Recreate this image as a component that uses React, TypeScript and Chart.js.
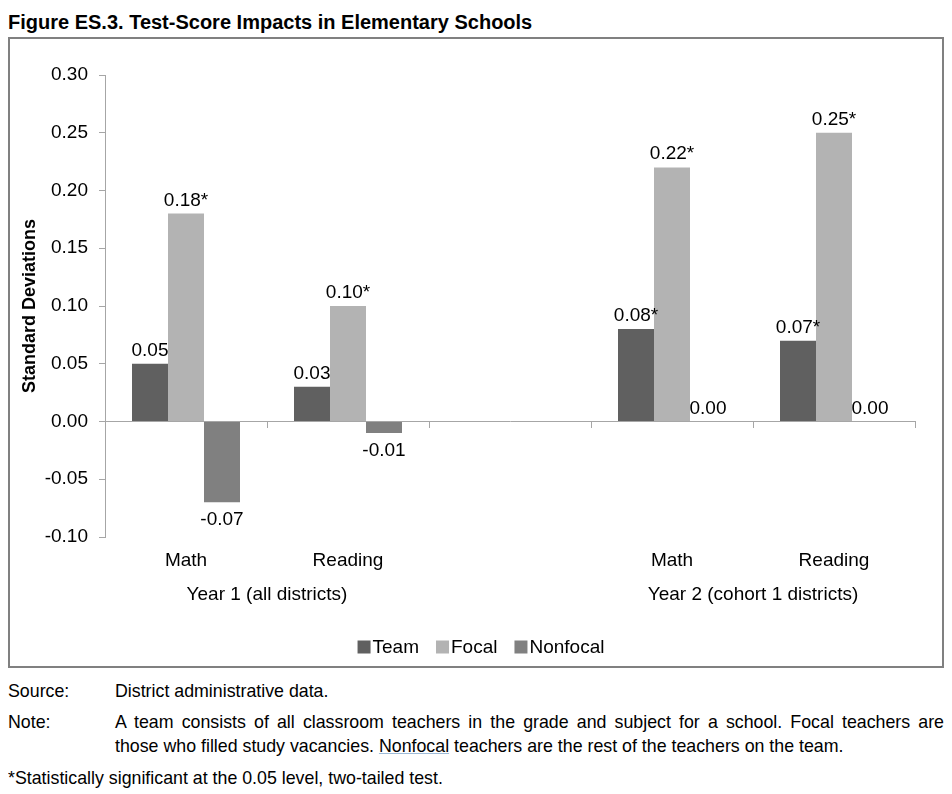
import React, { useEffect, useRef } from "react";
import { Chart, registerables } from "chart.js";

Chart.register(...registerables);

const FONT = "'Liberation Sans', Arial, Helvetica, sans-serif";

// ---- data ----
const categories = ["Math", "Reading", "", "Math", "Reading"];
const groupLabels = ["Year 1 (all districts)", "Year 2 (cohort 1 districts)"];
const groupSpans: number[][] = [
  [0, 1],
  [3, 4],
];
const seriesNames = ["Team", "Focal", "Nonfocal"];
const teamValues = [0.05, 0.03, null, 0.08, 0.07];
const focalValues = [0.18, 0.1, null, 0.22, 0.25];
const nonfocalValues = [-0.07, -0.01, null, 0.0, 0.0];
const teamSignificant = [false, false, false, true, true];
const focalSignificant = [true, true, false, true, true];
const nonfocalSignificant = [false, false, false, false, false];
const seriesColors = ["#606060", "#b3b3b3", "#808080"];
const yMin = -0.1;
const yMax = 0.3;
const yStep = 0.05;
const yTitle = "Standard Deviations";
const figureTitle = "Figure ES.3. Test-Score Impacts in Elementary Schools";

const fmt = (v: number) => (Math.abs(v) < 1e-9 ? 0 : v).toFixed(2);

const valueLabelPlugin = {
  id: "valueLabels",
  afterDatasetsDraw(chart: any) {
    const ctx = chart.ctx;
    ctx.save();
    ctx.font = `19px ${FONT}`;
    ctx.fillStyle = "#000";
    ctx.textAlign = "center";
    chart.data.datasets.forEach((ds: any, di: number) => {
      const meta = chart.getDatasetMeta(di);
      meta.data.forEach((el: any, i: number) => {
        const v = ds.data[i];
        if (v === null || v === undefined) return;
        const text = fmt(v) + (ds.significant[i] ? "*" : "");
        if (v >= 0) {
          ctx.textBaseline = "alphabetic";
          ctx.fillText(text, el.x, el.y - 8);
        } else {
          ctx.textBaseline = "top";
          ctx.fillText(text, el.x, el.y + 8);
        }
      });
    });
    ctx.restore();
  },
};

const groupLabelPlugin = {
  id: "groupLabels",
  afterDraw(chart: any) {
    const ctx = chart.ctx;
    const xs = chart.scales.x;
    ctx.save();
    ctx.font = `19px ${FONT}`;
    ctx.fillStyle = "#000";
    ctx.textAlign = "center";
    ctx.textBaseline = "middle";
    groupLabels.forEach((label, g) => {
      const [a, b] = groupSpans[g];
      const cx = (xs.getPixelForValue(a) + xs.getPixelForValue(b)) / 2;
      ctx.fillText(label, cx, chart.chartArea.bottom + 58);
    });
    ctx.restore();
  },
};

const legendPlugin = {
  id: "compactLegend",
  afterDraw(chart: any) {
    const ctx = chart.ctx;
    ctx.save();
    ctx.font = `19px ${FONT}`;
    ctx.textBaseline = "middle";
    ctx.textAlign = "left";
    const box = 13;
    const gap = 2;
    const itemGap = 17;
    const items = chart.data.datasets.map((ds: any) => ({
      text: ds.label,
      color: ds.backgroundColor,
      w: ctx.measureText(ds.label).width,
    }));
    const total =
      items.reduce((s: number, it: any) => s + box + gap + it.w, 0) + itemGap * (items.length - 1);
    let x = chart.width / 2 + 5 - total / 2;
    const cy = chart.chartArea.bottom + 110;
    items.forEach((it: any) => {
      ctx.fillStyle = it.color;
      ctx.fillRect(x, cy - box / 2, box, box);
      ctx.fillStyle = "#000";
      ctx.fillText(it.text, x + box + gap, cy + 1);
      x += box + gap + it.w + itemGap;
    });
    ctx.restore();
  },
};

function BarChart() {
  const ref = useRef<HTMLCanvasElement | null>(null);
  useEffect(() => {
    if (!ref.current) return;
    const axisColor = "#a6a6a6";
    const chart = new Chart(ref.current, {
      type: "bar",
      data: {
        labels: categories,
        datasets: [
          { label: seriesNames[0], data: teamValues, backgroundColor: seriesColors[0], significant: teamSignificant },
          { label: seriesNames[1], data: focalValues, backgroundColor: seriesColors[1], significant: focalSignificant },
          { label: seriesNames[2], data: nonfocalValues, backgroundColor: seriesColors[2], significant: nonfocalSignificant },
        ].map((d: any) => ({ ...d, borderWidth: 0, barPercentage: 1, categoryPercentage: 2 / 3 })),
      },
      options: {
        responsive: false,
        animation: false,
        devicePixelRatio: 1,
        layout: { padding: { top: 36, right: 27, left: 0, bottom: 0 } },
        font: { family: FONT },
        scales: {
          x: {
            type: "category",
            position: { y: 0 } as any,
            offset: true,
            grid: { offset: true, drawOnChartArea: false, drawTicks: true, tickLength: 6, color: axisColor },
            border: { display: true, color: axisColor },
            ticks: { display: false },
          },
          x2: {
            type: "category",
            position: "bottom",
            offset: true,
            grid: { display: false, drawTicks: false },
            border: { display: false },
            ticks: { font: { size: 19, family: FONT }, color: "#000", padding: 12, maxRotation: 0, autoSkip: false },
            afterFit: (s: any) => {
              s.height = 129;
            },
          },
          y: {
            min: yMin,
            max: yMax,
            ticks: {
              stepSize: yStep,
              callback: (v: any) => fmt(Number(v)),
              font: { size: 19, family: FONT },
              color: "#000",
              padding: 11,
            },
            grid: { drawOnChartArea: false, drawTicks: true, tickLength: 6, color: axisColor },
            border: { display: true, color: axisColor },
            title: {
              display: true,
              text: yTitle,
              font: { size: 18, weight: "bold", family: FONT },
              color: "#000",
              padding: { top: 9, bottom: 0 },
            },
            afterFit: (s: any) => {
              s.width = 95;
            },
          },
        },
        plugins: {
          legend: { display: false },
          tooltip: { enabled: false },
        },
      } as any,
      plugins: [valueLabelPlugin, groupLabelPlugin, legendPlugin],
    });
    return () => chart.destroy();
  }, []);
  return <canvas ref={ref} width={932} height={627} style={{ display: "block" }} />;
}

export default function App() {
  return (
    <div style={{ fontFamily: FONT, color: "#000", width: 936 }}>
      <div style={{ height: 29, lineHeight: "29px", fontWeight: "bold", fontSize: 20, whiteSpace: "nowrap" }}>
        {figureTitle}
      </div>
      <div style={{ border: "2px solid #808080", width: 936, boxSizing: "border-box" }}>
        <BarChart />
      </div>
      <div style={{ fontSize: 17.8, lineHeight: "24px" }}>
        <div style={{ display: "flex", marginTop: 11 }}>
          <span style={{ width: 107, flex: "none" }}>Source:</span>
          <span>District administrative data.</span>
        </div>
        <div style={{ display: "flex", marginTop: 7 }}>
          <span style={{ width: 107, flex: "none" }}>Note:</span>
          <div style={{ flex: 1 }}>
            <div style={{ textAlign: "justify", textAlignLast: "justify" as any }}>
              A team consists of all classroom teachers in the grade and subject for a school. Focal teachers are
            </div>
            <div>
              those who filled study vacancies.{" "}
              <span style={{ textDecoration: "underline", textDecorationColor: "#9dbbd8" }}>Nonfocal</span> teachers
              are the rest of the teachers on the team.
            </div>
          </div>
        </div>
        <div style={{ marginTop: 8 }}>*Statistically significant at the 0.05 level, two-tailed test.</div>
      </div>
    </div>
  );
}
